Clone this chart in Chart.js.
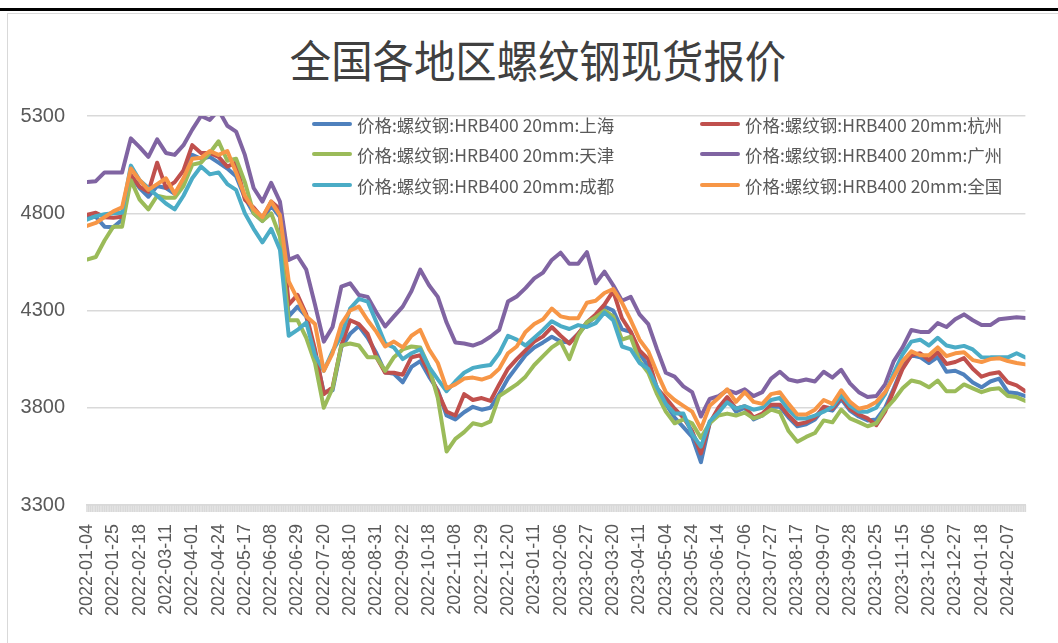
<!DOCTYPE html>
<html>
<head>
<meta charset="utf-8">
<title>全国各地区螺纹钢现货报价</title>
<script src="https://cdn.jsdelivr.net/npm/chart.js@4.4.1/dist/chart.umd.min.js"></script>
<style>
    body { margin: 0; background: #fff; }
    #wrap { position: relative; width: 1058px; height: 643px; overflow: hidden; }
    #topbar { position: absolute; left: 0; top: 8px; width: 1058px; height: 3px; background: #000; }
    #frame { position: absolute; left: 7px; top: 13px; width: 1060px; height: 640px;
             border-left: 1.5px solid #d9d9d9; border-top: 1.5px solid #d9d9d9; }
    #title { position: absolute; left: 538px; top: 37px; transform: translateX(-50%) scaleX(0.94);
             font-family: "Noto Sans CJK SC", sans-serif; font-size: 44px; line-height: 44px;
             color: #404040; white-space: nowrap; }
    #c { position: absolute; left: 0; top: 0; }
    .item { position: absolute; display: flex; align-items: center; height: 24px;
            font-family: "Noto Sans CJK SC", sans-serif; font-size: 17.5px; color: #595959; white-space: nowrap; }
    .swatch { width: 40px; height: 4px; border-radius: 2px; margin-right: 5px; }
</style>
</head>
<body>
<div id="wrap">
    <div id="topbar"></div>
    <div id="frame"></div>
    <div id="title">全国各地区螺纹钢现货报价</div>
    <canvas id="c" width="1058" height="643"></canvas>
    <div id="legend"></div>
</div>
<script>
//tick labels on the date axis, one every 15 trading days
var tickLabels = ['2022-01-04', '2022-01-25', '2022-02-18', '2022-03-11', '2022-04-01', '2022-04-24',
    '2022-05-17', '2022-06-08', '2022-06-29', '2022-07-20', '2022-08-10', '2022-08-31', '2022-09-22',
    '2022-10-18', '2022-11-08', '2022-11-29', '2022-12-20', '2023-01-11', '2023-02-06', '2023-02-27',
    '2023-03-20', '2023-04-11', '2023-05-04', '2023-05-24', '2023-06-14', '2023-07-06', '2023-07-27',
    '2023-08-17', '2023-09-07', '2023-09-28', '2023-10-25', '2023-11-15', '2023-12-06', '2023-12-27',
    '2024-01-18', '2024-02-07'];

var dayStep = 5; //one value every 5 trading days

var seriesNames = ['价格:螺纹钢:HRB400 20mm:上海', '价格:螺纹钢:HRB400 20mm:杭州',
    '价格:螺纹钢:HRB400 20mm:天津', '价格:螺纹钢:HRB400 20mm:广州',
    '价格:螺纹钢:HRB400 20mm:成都', '价格:螺纹钢:HRB400 20mm:全国'];

var shanghai = [4777, 4782, 4731, 4728, 4767, 4987, 4930, 4885, 4940, 4930,
    4900, 4960, 5100, 5080, 5090, 5060, 5030, 4990, 4880, 4800,
    4760, 4840, 4780, 4270, 4320, 4269, 4080, 3880, 3890, 4110,
    4180, 4220, 4160, 4080, 3982, 3975, 3931, 4010, 4040, 3960,
    3890, 3760, 3740, 3777, 3805, 3790, 3800, 3870, 3950, 4010,
    4070, 4110, 4136, 4165, 4140, 4136, 4180, 4230, 4270, 4320,
    4300, 4203, 4190, 4080, 4013, 3890, 3820, 3750, 3700, 3650,
    3520, 3720, 3790, 3845, 3780, 3800, 3740, 3760, 3805, 3805,
    3750, 3705, 3715, 3740, 3795, 3785, 3845, 3785, 3755, 3735,
    3740, 3800, 3900, 4010, 4070, 4060, 4030, 4060, 3985, 3990,
    3970, 3930, 3905, 3935, 3950, 3880, 3875, 3860];

var hangzhou = [4792, 4803, 4780, 4777, 4782, 4997, 4936, 4910, 5060, 4930,
    4960, 5020, 5150, 5110, 5110, 5090, 5040, 5060, 4870, 4830,
    4775, 4860, 4820, 4330, 4380, 4280, 4100, 3870, 3905, 4120,
    4250, 4230, 4180, 4060, 3980, 3980, 3970, 4060, 4070, 3980,
    3880, 3780, 3760, 3870, 3840, 3850, 3835, 3920, 4000, 4050,
    4095, 4140, 4167, 4215, 4170, 4130, 4180, 4240, 4280, 4330,
    4400, 4260, 4190, 4095, 4050, 3900, 3850, 3795, 3750, 3680,
    3565, 3720, 3800, 3855, 3795, 3808, 3750, 3770, 3815, 3815,
    3760, 3715, 3725, 3750, 3805, 3795, 3855, 3795, 3765, 3745,
    3710, 3780, 3890, 4000, 4070, 4080, 4045, 4085, 4025, 4035,
    4055, 4000, 3960, 3975, 3982, 3930, 3915, 3885];

var tianjin = [4562, 4575, 4660, 4731, 4731, 4970, 4870, 4820, 4890, 4880,
    4880, 4940, 5050, 5060, 5110, 5170, 5070, 5080, 4960, 4800,
    4760, 4800, 4680, 4250, 4250, 4160, 4030, 3800, 3900, 4120,
    4130, 4120, 4060, 4060, 3990, 4060, 4100, 4115, 4110, 4010,
    3850, 3575, 3640, 3675, 3720, 3710, 3730, 3860, 3890, 3920,
    3960, 4020, 4065, 4110, 4140, 4050, 4170, 4240, 4265, 4300,
    4270, 4150, 4165, 4040, 3980, 3870, 3780, 3720, 3740, 3720,
    3645, 3720, 3760, 3770, 3760, 3775, 3745, 3760, 3790, 3777,
    3680, 3625, 3650, 3670, 3735, 3725, 3790, 3745, 3726, 3705,
    3720, 3790, 3840, 3900, 3940, 3930, 3905, 3940, 3885, 3885,
    3920, 3900, 3880, 3895, 3900, 3860, 3855, 3835];

var guangzhou = [4960, 4965, 5010, 5010, 5010, 5185, 5140, 5090, 5180, 5110,
    5100, 5150, 5230, 5300, 5280, 5330, 5250, 5220, 5100, 4930,
    4860, 4956, 4860, 4560, 4580, 4510, 4330, 4140, 4215, 4423,
    4440, 4380, 4370, 4290, 4218, 4270, 4320, 4400, 4510, 4430,
    4370, 4238, 4136, 4130, 4120, 4136, 4165, 4200, 4346, 4372,
    4415, 4465, 4495, 4560, 4597, 4540, 4540, 4600, 4440, 4500,
    4430, 4350, 4370, 4280, 4230, 4100, 3980, 3960, 3910, 3880,
    3755, 3845, 3860, 3890, 3875, 3895, 3860, 3880, 3950, 3985,
    3945, 3935, 3945, 3935, 3985, 3955, 3995, 3925, 3880, 3855,
    3860, 3920, 4040, 4110, 4200, 4190, 4190, 4235, 4215, 4255,
    4280, 4250, 4225, 4225, 4255, 4260, 4265, 4262];

var chengdu = [4767, 4785, 4795, 4800, 4803, 5045, 4970, 4930, 4890, 4850,
    4820, 4890, 4980, 5040, 5000, 5010, 4950, 4920, 4800, 4720,
    4650, 4720, 4613, 4170, 4200, 4238, 4070, 3990, 4090, 4170,
    4310, 4360, 4346, 4240, 4130, 4110, 4050, 4080, 4100, 4010,
    3946, 3885, 3935, 3980, 4005, 4013, 4020, 4080, 4170, 4150,
    4120, 4160, 4200, 4245, 4220, 4205, 4225, 4215, 4235, 4290,
    4250, 4115, 4100, 4030, 4000, 3905, 3820, 3770, 3770, 3665,
    3600, 3730, 3775, 3828, 3795, 3808, 3790, 3800, 3840, 3850,
    3790, 3745, 3745, 3760, 3780, 3805, 3865, 3810, 3780, 3780,
    3800, 3870, 3980, 4075, 4140, 4150, 4120, 4160, 4120, 4110,
    4118, 4100, 4060, 4059, 4059, 4059, 4080, 4059];

var quanguo = [4735, 4750, 4780, 4810, 4830, 5030, 4970, 4920, 4950, 4980,
    4900, 4980, 5080, 5085, 5120, 5100, 5120, 5010, 4890, 4820,
    4780, 4860, 4790, 4450, 4360, 4270, 4230, 3990, 4080, 4230,
    4300, 4320, 4250, 4190, 4115, 4140, 4110, 4170, 4200, 4100,
    4030, 3900, 3920, 3950, 3955, 3945, 3960, 4000, 4080, 4115,
    4190, 4230, 4255, 4310, 4270, 4260, 4260, 4340, 4350, 4390,
    4410, 4340, 4250, 4150, 4090, 3980, 3880, 3840, 3810, 3780,
    3690, 3810, 3850, 3895, 3830, 3880, 3830, 3820, 3870, 3880,
    3820, 3765, 3765, 3790, 3840, 3820, 3890, 3830, 3795, 3805,
    3830, 3880, 3960, 4040, 4090, 4070, 4070, 4110, 4065, 4080,
    4085, 4045, 4035, 4050, 4055, 4040, 4030, 4023];

var seriesValues = [shanghai, hangzhou, tianjin, guangzhou, chengdu, quanguo];
var seriesColors = ['#4F81BD', '#C0504D', '#9BBB59', '#8064A2', '#4BACC6', '#F79646'];

//turning each value list into x/y points, x being the trading day number
function toPoints(values) {
    return values.map(function(v, i) {
        return { x: i * dayStep, y: v };
    });
}

var datasets = seriesValues.map(function(values, i) {
    return {
        label: seriesNames[i],
        data: toPoints(values),
        borderColor: seriesColors[i],
        borderWidth: 4,
        pointRadius: 0,
        tension: 0,
        borderJoinStyle: 'round',
        borderCapStyle: 'round',
        order: seriesValues.length - i //later series drawn on top, as in the original
    };
});

var lastDay = (shanghai.length - 1) * dayStep;

//small plugin: one short tick mark under the axis for every trading day (the grey band)
var dayTicks = {
    id: 'dayTicks',
    afterDatasetsDraw: function(chart) {
        var xs = chart.scales.x;
        var ctx = chart.ctx;
        var bottom = chart.chartArea.bottom;
        ctx.save();
        ctx.strokeStyle = '#d9d9d9';
        ctx.lineWidth = 1.5;
        ctx.beginPath();
        for (var d = 0; d <= lastDay; d++) {
            var px = xs.getPixelForValue(d);
            ctx.moveTo(px, bottom);
            ctx.lineTo(px, bottom + 7);
        }
        ctx.stroke();
        ctx.restore();
    }
};

new Chart(document.getElementById('c'), {
    type: 'line',
    data: { datasets: datasets },
    plugins: [dayTicks],
    options: {
        responsive: false,
        animation: false,
        events: [],
        layout: { padding: { left: 0, top: 116, right: 18, bottom: 0 } },
        plugins: {
            legend: { display: false },
            tooltip: { enabled: false }
        },
        scales: {
            x: {
                type: 'linear',
                min: 0,
                max: lastDay,
                afterFit: function(scale) { scale.height = 138; },
                grid: { display: false },
                border: { display: true, color: '#d9d9d9', width: 1.5 },
                ticks: {
                    stepSize: 1,
                    maxTicksLimit: 1000,
                    autoSkip: false,
                    minRotation: 90,
                    maxRotation: 90,
                    padding: 11,
                    color: '#595959',
                    font: { family: 'Liberation Sans', size: 18 },
                    callback: function(v) {
                        return (v % 15 === 0 && tickLabels[v / 15]) || '';
                    }
                }
            },
            y: {
                min: 3300,
                max: 5300,
                afterFit: function(scale) { scale.width = 87; },
                grid: { color: '#d9d9d9', lineWidth: 1.5, drawTicks: false },
                border: { display: false },
                ticks: {
                    stepSize: 500,
                    padding: 22,
                    color: '#595959',
                    font: { family: 'Liberation Sans', size: 20 },
                    callback: function(v) { return String(v); }
                }
            }
        }
    }
});

//legend drawn as html, two columns of three rows like the original
var legendPos = [[312, 112], [700, 112], [312, 142], [700, 142], [312, 173], [700, 173]];
var legendBox = document.getElementById('legend');
seriesNames.forEach(function(name, i) {
    var item = document.createElement('div');
    item.className = 'item';
    item.style.left = legendPos[i][0] + 'px';
    item.style.top = legendPos[i][1] + 'px';
    item.innerHTML = '<span class="swatch" style="background:' + seriesColors[i] + '"></span>' + name;
    legendBox.appendChild(item);
});
</script>
</body>
</html>
